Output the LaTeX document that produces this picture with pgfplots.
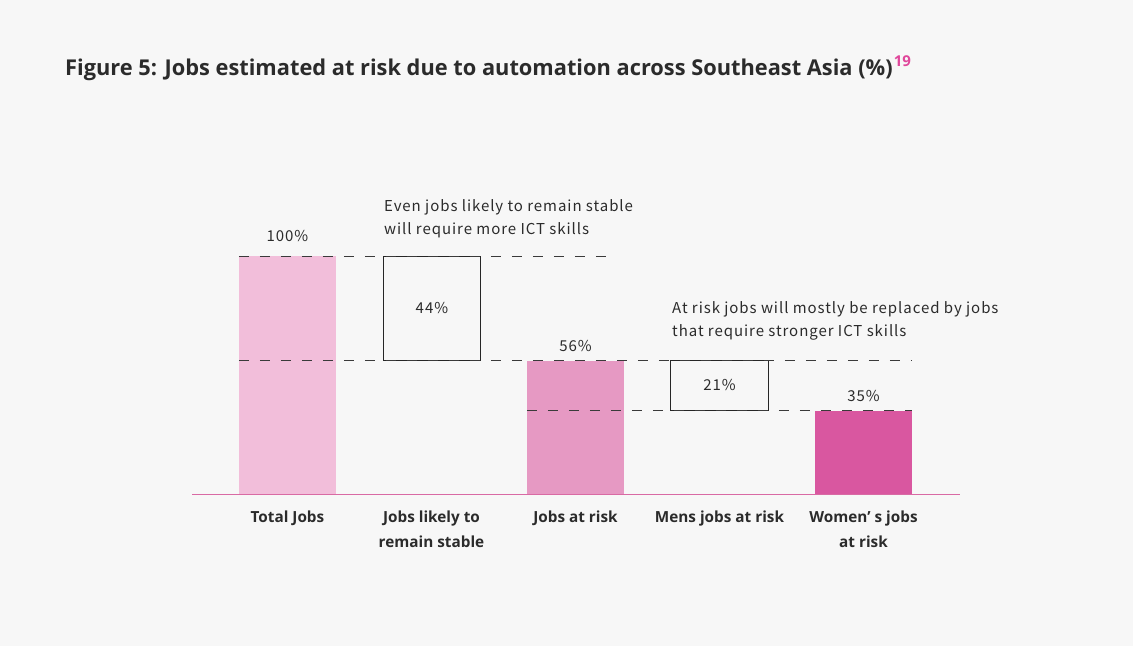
\documentclass[border=0pt]{standalone}
\usepackage{pgfplots}
\pgfplotsset{compat=1.18}
\usepackage{fontspec}
\setmainfont{Noto Sans CJK JP}
\newfontfamily\bodyfont[LetterSpace=6.3]{Noto Sans CJK JP}
\newfontfamily\titlefont{Open Sans}
\definecolor{bg}{HTML}{F7F7F7}
\definecolor{cA}{HTML}{F2BEDA}
\definecolor{cB}{HTML}{E699C3}
\definecolor{cC}{HTML}{D957A0}
\definecolor{axpink}{HTML}{D96AA4}
\definecolor{supink}{HTML}{E0479B}
\definecolor{txt}{HTML}{2B2B2B}
\definecolor{dashc}{HTML}{3A3A3A}
\tikzset{body/.style={inner sep=0pt, text=txt, font=\bodyfont\fontsize{15}{18}\selectfont}}
\begin{document}
\begin{tikzpicture}
\fill[bg] (0pt,0pt) rectangle (1133pt,-646pt);
\node[anchor=base west, inner sep=0pt, text=txt, font=\titlefont\bfseries\fontsize{21.8}{25}\selectfont] at (65pt,-75pt)
 {Figure 5: Jobs estimated at risk due to automation across Southeast Asia (\%)\kern1pt\textcolor{supink}{\fontsize{15}{15}\selectfont\raisebox{8.5pt}{19}}};
\begin{axis}[
  at={(192pt,-494pt)}, anchor=south west,
  scale only axis, width=768pt, height=238pt,
  xmin=-0.663, xmax=4.670, ymin=0, ymax=100,
  axis x line=bottom, axis y line=none,
  x axis line style={-, draw=axpink, line width=1pt},
  xtick={0,1,2,3,4},
  xticklabels={Total Jobs, Jobs likely to\\remain stable, Jobs at risk, Mens jobs at risk, Women’ s jobs\\at risk},
  major tick length=0pt,
  xticklabel style={anchor=north, align=center, inner sep=0pt, yshift=-17pt, text=txt,
     font=\titlefont\bfseries\fontsize{15.3}{24.5}\selectfont},
  clip=false,
]
% bars
\addplot[ybar, bar width=0.674, bar shift=0pt, fill=cA, draw=none] coordinates {(0,100)};
\addplot[ybar, bar width=0.674, bar shift=0pt, fill=cB, draw=none] coordinates {(2,56)};
\addplot[ybar, bar width=0.674, bar shift=0pt, fill=cC, draw=none] coordinates {(4,35)};
% floating boxes
\addplot[black!85, line width=1pt, line join=miter] coordinates {(0.670,56) (1.337,56) (1.337,100) (0.670,100) (0.670,56)};
\addplot[black!85, line width=1pt, line join=miter] coordinates {(2.663,35) (3.337,35) (3.337,56) (2.663,56) (2.663,35)};
% dashed guides
\addplot[dashc, line width=1pt, dash pattern=on 10pt off 11pt] coordinates {(-0.337,100) (2.274,100)};
\addplot[dashc, line width=1pt, dash pattern=on 10pt off 11pt] coordinates {(-0.337,56) (4.337,56)};
\addplot[dashc, line width=1pt, dash pattern=on 10pt off 11pt] coordinates {(1.663,35) (4.337,35)};
% value labels
\node[body, anchor=base] at (axis cs:0,105.9) {100\%};
\node[body, anchor=base] at (axis cs:1.003,75.9) {44\%};
\node[body, anchor=base] at (axis cs:2,59.7) {56\%};
\node[body, anchor=base] at (axis cs:3,43.4) {21\%};
\node[body, anchor=base] at (axis cs:4,38.7) {35\%};
% annotations
\node[body, anchor=base west] at (axis cs:0.670,118.9) {Even jobs likely to remain stable};
\node[body, anchor=base west] at (axis cs:0.670,109.2) {will require more ICT skills};
\node[body, anchor=base west] at (axis cs:2.670,75.9) {At risk jobs will mostly be replaced by jobs};
\node[body, anchor=base west] at (axis cs:2.670,66.1) {that require stronger ICT skills};
\end{axis}
\end{tikzpicture}
\end{document}
